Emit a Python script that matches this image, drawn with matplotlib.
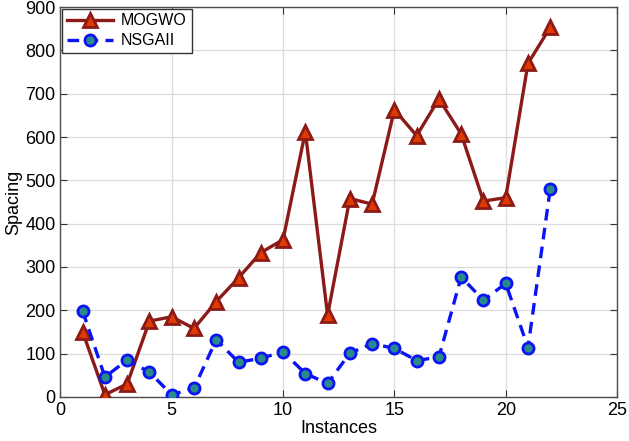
import matplotlib.pyplot as plt
import numpy as np

plt.rcParams['font.family'] = ['Liberation Sans', 'DejaVu Sans']

instances = np.arange(1, 23)
mogwo = [150, 5, 30, 175, 185, 158, 220, 275, 333, 363, 612, 189,
         458, 445, 663, 603, 688, 607, 452, 460, 770, 853]
nsgaii = [198, 46, 85, 57, 5, 20, 132, 80, 89, 104, 54, 31,
          101, 123, 112, 84, 92, 277, 223, 262, 114, 480]

fig = plt.figure(figsize=(6.29, 4.41), dpi=100)
ax = fig.add_axes([0.096, 0.1, 0.885, 0.884])

ax.plot(instances, mogwo, '-^', color='#8c1a16', lw=2.4, ms=10,
        mfc='#e03a00', mec='#8c1a16', mew=2, label='MOGWO', zorder=3)
ax.plot(instances, nsgaii, '--o', color='#0a14f5', lw=2.4, ms=8,
        mfc='#2a8a8a', mec='#0a14f5', mew=2, label='NSGAII', zorder=3,
        dashes=(3.5, 2.2))

ax.set_xlim(0, 25)
ax.set_ylim(0, 900)
ax.set_xticks([0, 5, 10, 15, 20, 25])
ax.set_yticks(np.arange(0, 901, 100))
ax.grid(True, color='#dcdcdc', lw=0.9)
ax.set_axisbelow(True)
ax.tick_params(direction='in', top=True, right=True, labelsize=13,
               color='#333333', length=5)
for s in ax.spines.values():
    s.set_color('#4d4d4d')
    s.set_linewidth(1)

ax.set_xlabel('Instances', fontsize=13, labelpad=1)
ax.set_ylabel('Spacing', fontsize=13, labelpad=2)

leg = ax.legend(loc='upper left', fontsize=11.5, fancybox=False,
                edgecolor='#333333', framealpha=1, borderaxespad=0.1,
                handlelength=2.9, borderpad=0.3, labelspacing=0.3,
                handletextpad=0.5)
leg.get_frame().set_linewidth(1)

fig.savefig('out.png', dpi=100)
